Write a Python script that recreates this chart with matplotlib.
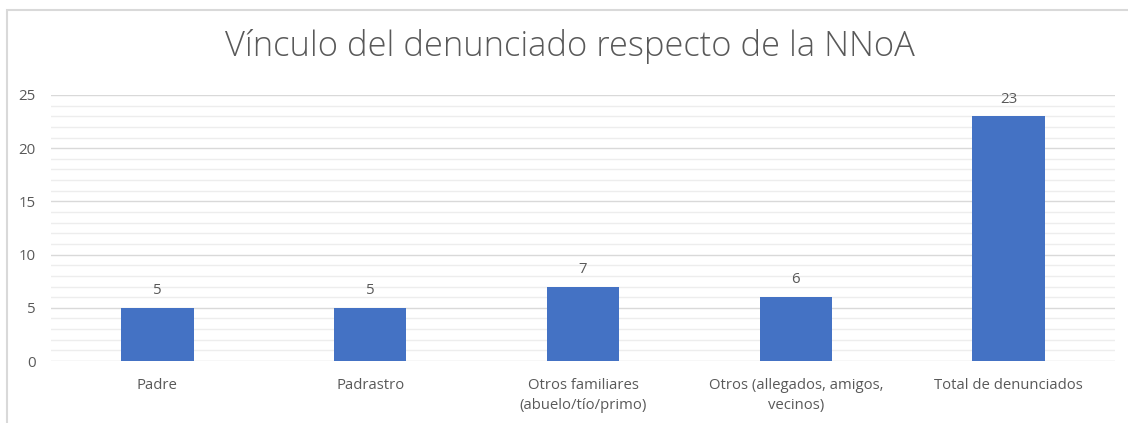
import matplotlib
matplotlib.use("Agg")
import matplotlib.pyplot as plt
from matplotlib.patches import Rectangle
from matplotlib.ticker import MultipleLocator

categories = ["Padre", "Padrastro", "Otros familiares\n(abuelo/tío/primo)",
              "Otros (allegados, amigos,\nvecinos)", "Total de denunciados"]
values = [5, 5, 7, 6, 23]
title = "Vínculo del denunciado respecto de la NNoA"

plt.rcParams['font.family'] = ['Open Sans', 'DejaVu Sans']
txt = "#595959"

fig = plt.figure(figsize=(11.28, 4.23), dpi=100)
# outer chart border
fig.patches.append(Rectangle((6.5/1128, -0.1), 1.2, (1 - 10.5/423) + 0.1,
                             transform=fig.transFigure, fill=False,
                             edgecolor="#D9D9D9", linewidth=1.5))

ax = fig.add_axes([51/1128, 1 - 361/423, (1115 - 51)/1128, (361 - 95)/423])
x = list(range(len(categories)))
bars = ax.bar(x, values, width=0.34, color="#4472C4", zorder=3)
ax.set_xlim(-0.5, len(categories) - 0.5)
ax.set_ylim(0, 25)
ax.yaxis.set_major_locator(MultipleLocator(5))
ax.yaxis.set_minor_locator(MultipleLocator(1))
ax.grid(which="major", axis="y", color="#D9D9D9", linewidth=1.0, zorder=1)
ax.grid(which="minor", axis="y", color="#EDEDED", linewidth=1.0, zorder=0)
for s in ax.spines.values():
    s.set_visible(False)
ax.tick_params(axis="both", which="both", length=0)
ax.tick_params(axis="y", pad=11, labelsize=10.8, labelcolor=txt)
ax.tick_params(axis="x", pad=12, labelsize=10.7, labelcolor=txt)
ax.set_xticks(x)
ax.set_xticklabels(categories, linespacing=1.45)

for b, v in zip(bars, values):
    ax.annotate(str(v), (b.get_x() + b.get_width() / 2, v), xytext=(0, 7),
                textcoords="offset points", ha="center", va="bottom",
                fontsize=10.8, color=txt)

fig.text(570/1128, 1 - 46/423, title, ha="center", va="center",
         fontsize=24.8, color=txt, fontweight="light")

fig.savefig("out.png", dpi=100)
